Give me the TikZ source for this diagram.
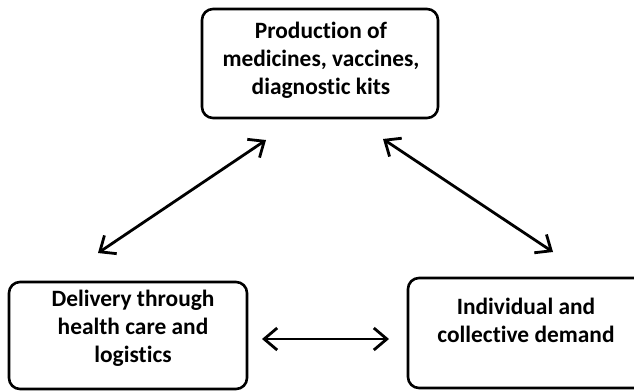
\documentclass[tikz,border=0pt]{standalone}
\usepackage{fontspec}
\setmainfont{Carlito}[Ligatures={NoCommon}]
\usetikzlibrary{arrows.meta}
\begin{document}
\begin{tikzpicture}[x=1pt,y=-1pt,
  box/.style={draw, line width=2.6pt, rounded corners=11pt, inner sep=0pt},
  lbl/.style={align=center, font=\fontsize{23.4}{28}\selectfont\bfseries, inner sep=0pt},
  link/.style={line width=2.8pt, {Straight Barb[length=13pt,width=22pt]}-{Straight Barb[length=13pt,width=22pt]}}]
\useasboundingbox (0,0) rectangle (634,391);
\node[box, minimum width=236pt, minimum height=109pt] (prod) at (320,63.5) {};
\node[box, minimum width=238pt, minimum height=107pt] (deliv) at (128,335.5) {};
\node[box, minimum width=238pt, minimum height=110pt] (demand) at (527,333) {};
\node[lbl] (prodtxt) at (321,60) {Production of\\medicines, vaccines,\\diagnostic kits};
\node[lbl] (delivtxt) at (133,328) {Delivery through\\health care and\\logistics};
\node[lbl] (demandtxt) at (526,320.5) {Individual and\\collective demand};
\coordinate (a1) at (98,253);
\coordinate (a2) at (266,140);
\coordinate (b1) at (383,139);
\coordinate (b2) at (553,252);
\coordinate (c1) at (262,339);
\coordinate (c2) at (389,339);
\draw[link] (a1) -- (a2);
\draw[link] (b1) -- (b2);
\draw[link] (c1) -- (c2);
\end{tikzpicture}
\end{document}
